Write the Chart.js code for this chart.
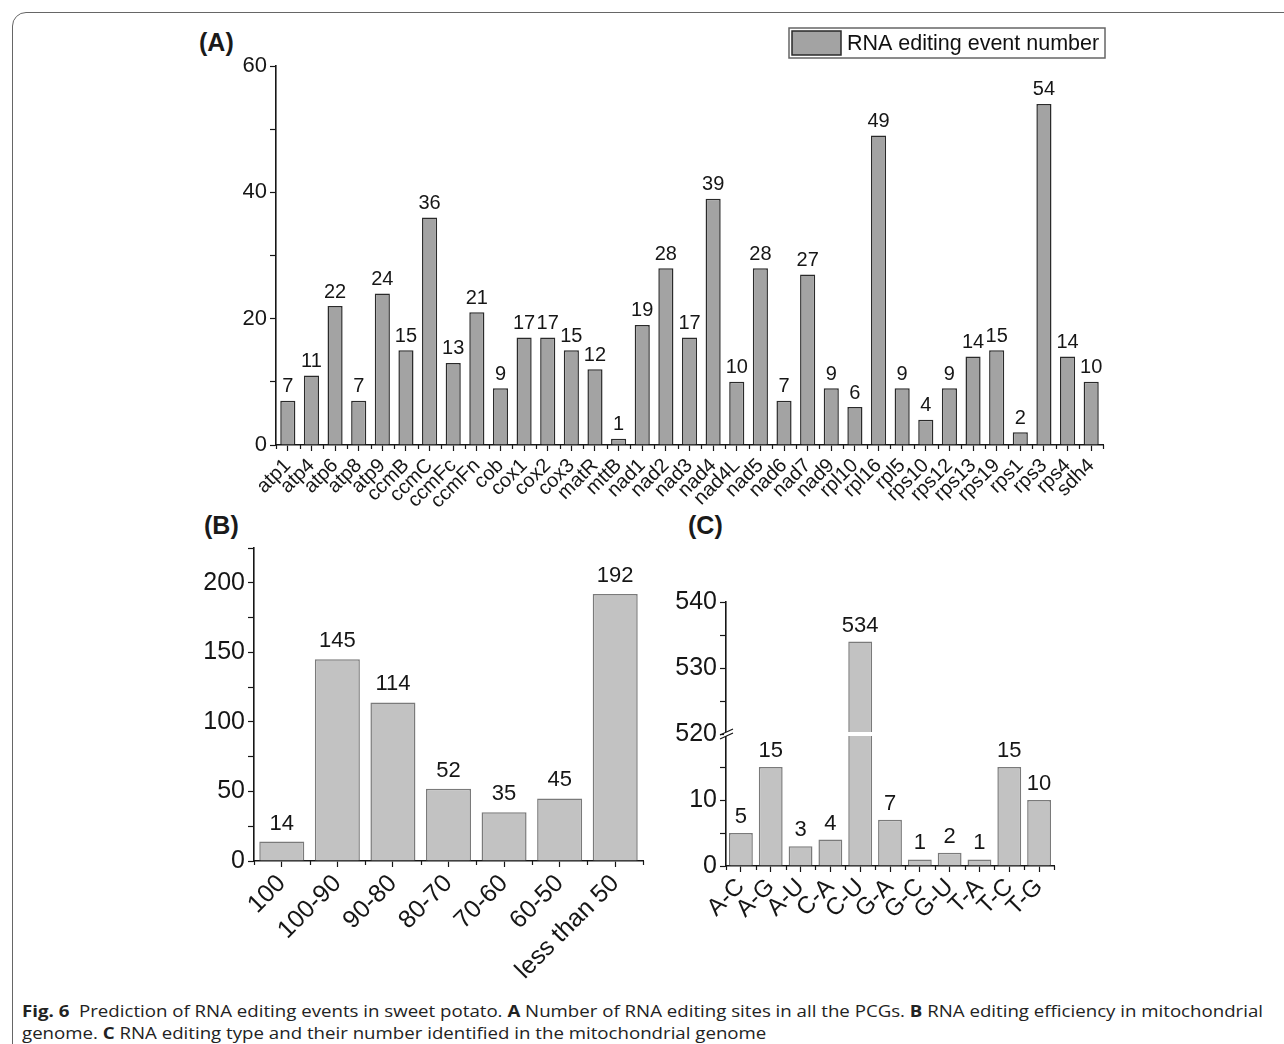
<!DOCTYPE html>
<html>
<head>
<meta charset="utf-8">
<script src="https://cdn.jsdelivr.net/npm/chart.js@4.4.1/dist/chart.umd.min.js"></script>
<style>
  body { margin: 0; background: #fff; width: 1284px; height: 1044px; overflow: hidden; position: relative;
         font-family: "Liberation Sans", Arial, sans-serif; }
  .frame { position: absolute; left: 12px; top: 12px; width: 1300px; height: 1060px;
           border: 1px solid #666; border-radius: 14px; box-sizing: border-box; }
  .panel { position: absolute; font-weight: bold; font-size: 25px; line-height: 1; color: #1a1a1a; }
  canvas { position: absolute; }
  .caption { position: absolute; left: 22px; top: 1000px; font-family: "Open Sans", sans-serif; font-size: 16.5px;
             line-height: 22px; color: #222; white-space: nowrap; transform-origin: 0 0; }
  .caption span { display: inline-block; }
</style>
</head>
<body>
<div class="frame"></div>
<div class="panel" style="left:199px;top:30px">(A)</div>
<div class="panel" style="left:204px;top:513px">(B)</div>
<div class="panel" style="left:688px;top:513px">(C)</div>

<canvas id="chartA" width="940" height="525" style="left:180px;top:20px"></canvas>
<canvas id="chartB" width="510" height="490" style="left:150px;top:500px"></canvas>
<canvas id="chartC" width="450" height="390" style="left:620px;top:540px"></canvas>

<div class="caption" id="caption"><span id="capLine1"><b>Fig. 6</b>&nbsp; Prediction of RNA editing events in sweet potato. <b>A</b> Number of RNA editing sites in all the PCGs. <b>B</b> RNA editing efficiency in mitochondrial</span><br>genome. <b>C</b> RNA editing type and their number identified in the mitochondrial genome</div>

<script>
// ── DATA ──
const geneLabels = ['atp1', 'atp4', 'atp6', 'atp8', 'atp9', 'ccmB', 'ccmC', 'ccmFc', 'ccmFn', 'cob',
  'cox1', 'cox2', 'cox3', 'matR', 'mttB', 'nad1', 'nad2', 'nad3', 'nad4', 'nad4L', 'nad5', 'nad6',
  'nad7', 'nad9', 'rpl10', 'rpl16', 'rpl5', 'rps10', 'rps12', 'rps13', 'rps19', 'rps1', 'rps3', 'rps4', 'sdh4'];
const geneEvents = [7, 11, 22, 7, 24, 15, 36, 13, 21, 9, 17, 17, 15, 12, 1, 19, 28, 17, 39, 10, 28, 7,
  27, 9, 6, 49, 9, 4, 9, 14, 15, 2, 54, 14, 10];

const efficiencyLabels = ['100', '100-90', '90-80', '80-70', '70-60', '60-50', 'less than 50'];
const efficiencyCounts = [14, 145, 114, 52, 35, 45, 192];

const typeLabels = ['A-C', 'A-G', 'A-U', 'C-A', 'C-U', 'G-A', 'G-C', 'G-U', 'T-A', 'T-C', 'T-G'];
const typeCounts = [5, 15, 3, 4, 534, 7, 1, 2, 1, 15, 10];

// broken axis in (C): values above the break are shifted down by BREAK_SHIFT
const BREAK_AT = 20;
const BREAK_SHIFT = 500;
const typePlotted = typeCounts.map(v => v > BREAK_SHIFT ? v - BREAK_SHIFT : v);

const FONT = '"Liberation Sans", Arial, sans-serif';
const INK = '#161616';

// ── PLUGINS ──
const valueLabels = {
  id: 'valueLabels',
  afterDatasetsDraw(chart, args, opts) {
    const ctx = chart.ctx;
    const meta = chart.getDatasetMeta(0);
    const texts = opts.texts || chart.data.datasets[0].data;
    ctx.save();
    ctx.font = opts.font;
    ctx.fillStyle = INK;
    ctx.textAlign = 'center';
    ctx.textBaseline = 'bottom';
    meta.data.forEach((bar, i) => ctx.fillText(String(texts[i]), bar.x, bar.y - opts.gap));
    ctx.restore();
  }
};

// short ticks between categories
const boundaryTicks = {
  id: 'boundaryTicks',
  afterDraw(chart, args, opts) {
    const x = chart.scales.x, ctx = chart.ctx;
    const n = chart.data.labels.length;
    const step = (x.right - x.left) / n;
    ctx.save();
    ctx.strokeStyle = INK;
    ctx.lineWidth = 1.2;
    ctx.beginPath();
    for (let i = 0; i <= n; i++) {
      const px = Math.round(x.left + i * step) + 0.5;
      ctx.moveTo(px, x.top);
      ctx.lineTo(px, x.top + opts.len);
    }
    ctx.stroke();
    ctx.restore();
  }
};

const legendBox = {
  id: 'legendBox',
  afterDraw(chart) {
    const ctx = chart.ctx, area = chart.chartArea;
    const ds = chart.data.datasets[0];
    const right = area.right + 2, top = 8, w = 316, h = 30;
    ctx.save();
    ctx.strokeStyle = '#666';
    ctx.lineWidth = 1.5;
    ctx.strokeRect(right - w, top, w, h);
    ctx.fillStyle = ds.backgroundColor;
    ctx.fillRect(right - w + 3, top + 3, 49, 24);
    ctx.strokeStyle = ds.borderColor;
    ctx.lineWidth = 1.5;
    ctx.strokeRect(right - w + 3, top + 3, 49, 24);
    ctx.fillStyle = '#111';
    ctx.font = '21.5px ' + FONT;
    ctx.textBaseline = 'middle';
    ctx.fillText(ds.label, right - w + 58, top + h / 2 + 1);
    ctx.restore();
  }
};

const axisBreak = {
  id: 'axisBreak',
  afterDraw(chart) {
    const ctx = chart.ctx, y = chart.scales.y;
    const py = y.getPixelForValue(BREAK_AT);
    const meta = chart.getDatasetMeta(0);
    ctx.save();
    ctx.fillStyle = '#fff';
    typeCounts.forEach((v, i) => {
      if (v > BREAK_SHIFT) {
        const bar = meta.data[i];
        ctx.fillRect(bar.x - bar.width / 2 - 1, py - 2, bar.width + 2, 4);
      }
    });
    const ax = y.right;
    ctx.fillRect(ax - 2, py - 2, 4, 4);
    ctx.strokeStyle = INK;
    ctx.lineWidth = 1.2;
    ctx.beginPath();
    ctx.moveTo(ax - 6, py + 1); ctx.lineTo(ax + 7, py - 5);
    ctx.moveTo(ax - 6, py + 5); ctx.lineTo(ax + 7, py - 1);
    ctx.stroke();
    ctx.restore();
  }
};

function fixWidth(w) { return s => { s.width = w; }; }
function fixHeight(h) { return s => { s.height = h; }; }

function axisStyle(tickFont) {
  return {
    grid: { drawOnChartArea: false, color: INK, tickLength: 6, tickWidth: 1.2 },
    border: { display: true, color: INK, width: 1.6 },
    ticks: { color: INK, font: { family: FONT, size: tickFont } }
  };
}

// ── (A) RNA EDITING EVENTS PER GENE ──
function initChartA() {
  const y = axisStyle(22), x = axisStyle(20);
  new Chart(document.getElementById('chartA'), {
    type: 'bar',
    data: {
      labels: geneLabels,
      datasets: [{
        label: 'RNA editing event number',
        data: geneEvents,
        backgroundColor: '#a3a3a3',
        borderColor: '#2a2a2a',
        borderWidth: 1.5,
        barPercentage: 0.64,
        categoryPercentage: 1
      }]
    },
    options: {
      responsive: false,
      animation: false,
      layout: { padding: { top: 46, right: 17, left: 0, bottom: 0 } },
      plugins: {
        legend: { display: false },
        tooltip: { enabled: false },
        valueLabels: { font: '20px ' + FONT, gap: 4 },
        boundaryTicks: { len: 4 }
      },
      scales: {
        x: {
          ...x,
          afterFit: fixHeight(100),
          grid: { ...x.grid, offset: false },
          ticks: { ...x.ticks, minRotation: 45, maxRotation: 45, autoSkip: false, padding: 3 }
        },
        y: {
          ...y,
          min: 0, max: 60,
          afterFit: fixWidth(96),
          ticks: { ...y.ticks, stepSize: 10, padding: 3, callback: v => v % 20 === 0 ? v : '' }
        }
      }
    },
    plugins: [valueLabels, boundaryTicks, legendBox]
  });
}

// ── (B) EDITING EFFICIENCY ──
function initChartB() {
  const y = axisStyle(25), x = axisStyle(25);
  new Chart(document.getElementById('chartB'), {
    type: 'bar',
    data: {
      labels: efficiencyLabels,
      datasets: [{
        data: efficiencyCounts,
        backgroundColor: '#c2c2c2',
        borderColor: '#7a7a7a',
        borderWidth: 1.5,
        barPercentage: 0.81,
        categoryPercentage: 1
      }]
    },
    options: {
      responsive: false,
      animation: false,
      layout: { padding: { top: 48, right: 17, left: 0, bottom: 0 } },
      plugins: {
        legend: { display: false },
        tooltip: { enabled: false },
        valueLabels: { font: '22px ' + FONT, gap: 7 },
        boundaryTicks: { len: 4 }
      },
      scales: {
        x: {
          ...x,
          afterFit: fixHeight(129),
          grid: { ...x.grid, offset: false },
          ticks: { ...x.ticks, minRotation: 45, maxRotation: 45, autoSkip: false, padding: 2 }
        },
        y: {
          ...y,
          min: 0, max: 225,
          afterFit: fixWidth(104),
          ticks: { ...y.ticks, stepSize: 25, padding: 3, callback: v => v % 50 === 0 ? v : '' }
        }
      }
    },
    plugins: [valueLabels, boundaryTicks]
  });
}

// ── (C) EDITING TYPES ──
function initChartC() {
  const y = axisStyle(25), x = axisStyle(24);
  new Chart(document.getElementById('chartC'), {
    type: 'bar',
    data: {
      labels: typeLabels,
      datasets: [{
        data: typePlotted,
        backgroundColor: '#c2c2c2',
        borderColor: '#7a7a7a',
        borderWidth: 1.5,
        barPercentage: 0.8,
        categoryPercentage: 1
      }]
    },
    options: {
      responsive: false,
      animation: false,
      layout: { padding: { top: 62, right: 16, left: 0, bottom: 0 } },
      plugins: {
        legend: { display: false },
        tooltip: { enabled: false },
        valueLabels: { font: '22px ' + FONT, gap: 5, texts: typeCounts },
        boundaryTicks: { len: 4 }
      },
      scales: {
        x: {
          ...x,
          afterFit: fixHeight(64),
          grid: { ...x.grid, offset: false },
          ticks: { ...x.ticks, minRotation: 45, maxRotation: 45, autoSkip: false, padding: 1 }
        },
        y: {
          ...y,
          min: 0, max: 40,
          afterFit: fixWidth(106),
          ticks: {
            ...y.ticks, stepSize: 5, padding: 3,
            callback: v => v % 10 === 0 ? (v >= BREAK_AT ? v + BREAK_SHIFT : v) : ''
          }
        }
      }
    },
    plugins: [valueLabels, boundaryTicks, axisBreak]
  });
}

initChartA();
initChartB();
initChartC();

// stretch the caption so its first line spans the frame like the original
const cap = document.getElementById('caption');
const w1 = document.getElementById('capLine1').getBoundingClientRect().width;
cap.style.transform = 'scaleX(' + (1241 / w1) + ')';
</script>
</body>
</html>
